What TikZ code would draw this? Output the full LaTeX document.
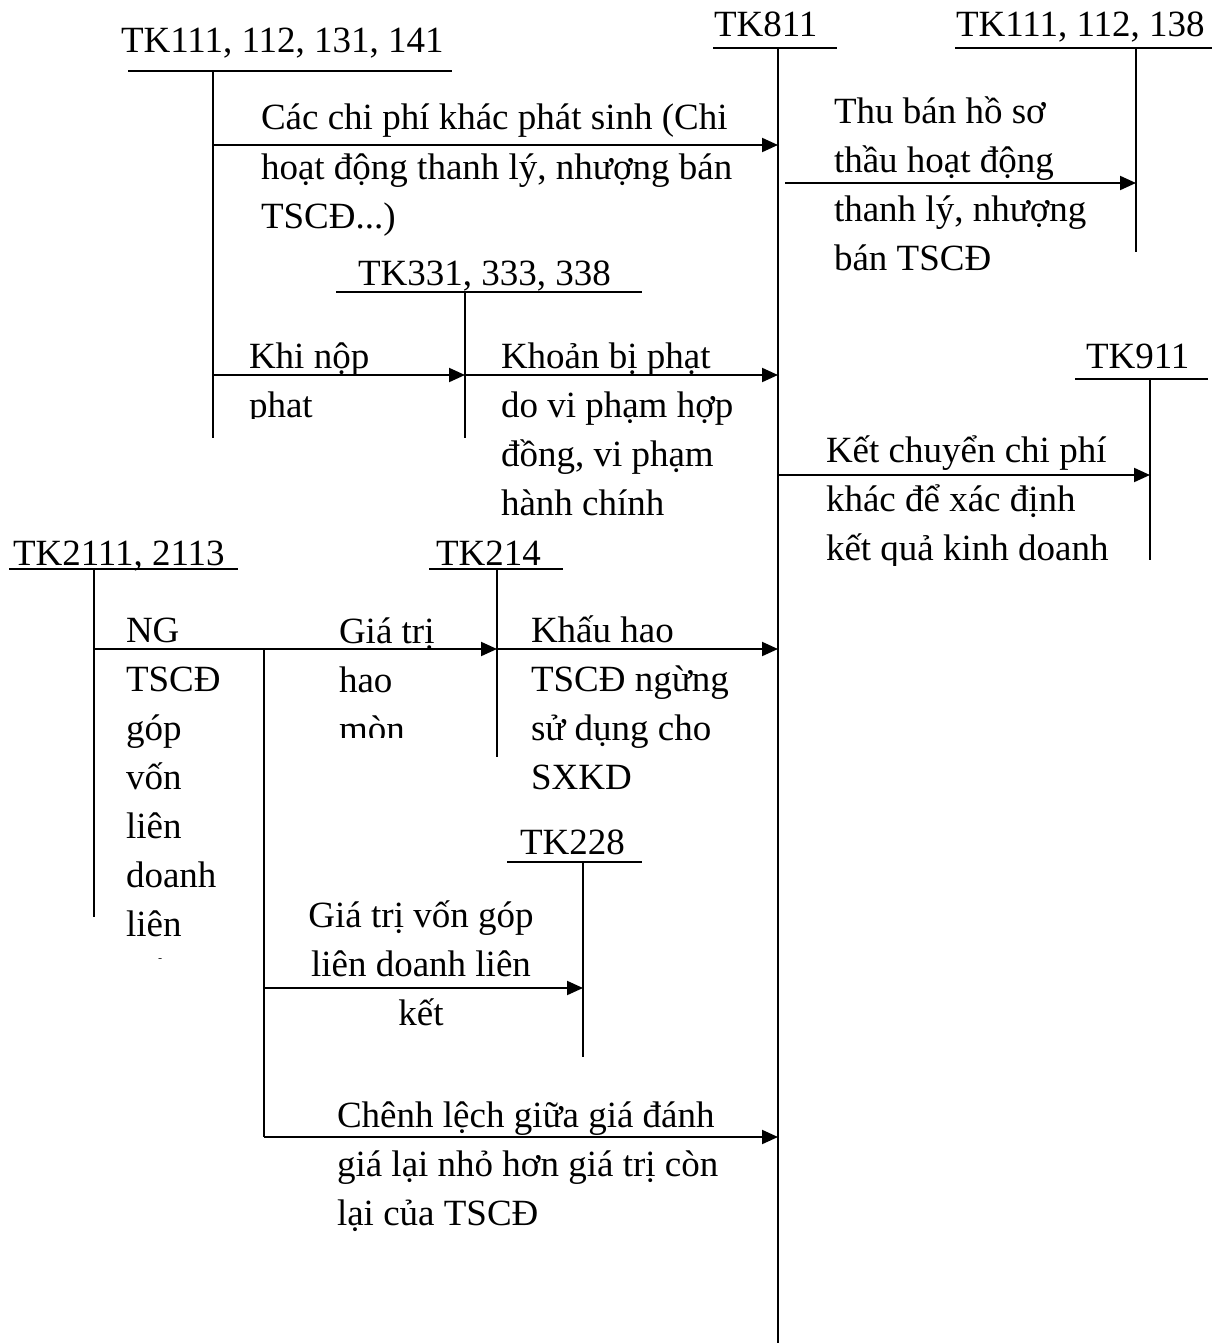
\documentclass[tikz,border=0pt]{standalone}
\usepackage{fontspec}
\setmainfont{Liberation Serif}
\usetikzlibrary{arrows.meta}

\begin{document}
\begin{tikzpicture}[>={Triangle[length=16pt,width=14pt]},x=1pt,y=-1pt,line width=2pt,
  every node/.style={inner sep=0pt,font=\fontsize{37}{49}\selectfont},
  txt/.style={anchor=base west,align=left}]
	  \useasboundingbox (0,0) rectangle (1226,1343);
	  \node[txt] (k1) at (120,53) {TK111, 112, 131, 141};
	  \draw (128,71) -- (452,71);
	  \draw (213,71) -- (213,438);
	  \node[txt] (k2) at (713,37) {TK811};
	  \draw (713,48) -- (837,48);
	  \draw (778,48) -- (778,1343);
	  \node[txt] (k3) at (955,37) {TK111, 112, 138};
	  \draw (955,48) -- (1212,48);
	  \draw (1136,48) -- (1136,252);
	  \node[txt] (k4) at (357,285) {TK331, 333, 338};
	  \draw (336,292) -- (642,292);
	  \draw (465,292) -- (465,438);
	  \node[txt] (k5) at (1085,368) {TK911};
	  \draw (1075,379) -- (1208,379);
	  \draw (1150,379) -- (1150,560);
	  \node[txt] (k6) at (12,565) {TK2111, 2113};
	  \draw (9,569) -- (238,569);
	  \draw (94,569) -- (94,917);
	  \node[txt] (k7) at (435,565) {TK214};
	  \draw (429,569) -- (563,569);
	  \draw (497,569) -- (497,757);
	  \node[txt] (k8) at (519,854) {TK228};
	  \draw (507,862) -- (642,862);
	  \draw (583,862) -- (583,1057);
	  \draw (264,649) -- (264,1137);
	  \coordinate (p1) at (213,145);
	  \coordinate (q1) at (778,145);
	  \coordinate (p2) at (785,183);
	  \coordinate (q2) at (1136,183);
	  \coordinate (p3) at (213,375);
	  \coordinate (q3) at (465,375);
	  \coordinate (q4) at (778,375);
	  \coordinate (p5) at (778,475);
	  \coordinate (q5) at (1150,475);
	  \coordinate (p6) at (94,649);
	  \coordinate (q6) at (497,649);
	  \coordinate (q7) at (778,649);
	  \coordinate (p8) at (264,988);
	  \coordinate (q8) at (583,988);
	  \coordinate (p9) at (264,1137);
	  \coordinate (q9) at (778,1137);
	  \draw[->] (p1) -- (q1);
	  \draw[->] (p2) -- (q2);
	  \draw[->] (p3) -- (q3);
	  \draw[->] (q3) -- (q4);
	  \draw[->] (p5) -- (q5);
	  \draw[->] (p6) -- (q6);
	  \draw[->] (q6) -- (q7);
	  \draw[->] (p8) -- (q8);
	  \draw[->] (p9) -- (q9);
	  \node[txt] (t1) at (260,228) {Các chi phí khác phát sinh (Chi\\hoạt động thanh lý, nhượng bán\\TSCĐ...)};
	  \node[txt] (t2) at (833,270) {Thu bán hồ sơ\\thầu hoạt động\\thanh lý, nhượng\\bán TSCĐ};
	  \begin{scope}
	    \clip (230,320) rectangle (460,418);
	    \node[txt] (t3) at (248,417) {Khi nộp\\phạt};
	  \end{scope}
	  \node[txt] (t4) at (500,515) {Khoản bị phạt\\do vi phạm hợp\\đồng, vi phạm\\hành chính};
	  \begin{scope}
	    \clip (800,420) rectangle (1140,565);
	    \node[txt] (t5) at (825,560) {Kết chuyển chi phí\\khác để xác định\\kết quả kinh doanh};
	  \end{scope}
	  \begin{scope}
	    \clip (110,600) rectangle (255,958);
	    \node[txt] (t6) at (125,985) {NG\\TSCĐ\\góp\\vốn\\liên\\doanh\\liên\\kết};
	  \end{scope}
	  \begin{scope}
	    \clip (320,600) rectangle (490,737);
	    \node[txt] (t7) at (338,741) {Giá trị\\hao\\mòn};
	  \end{scope}
	  \node[txt] (t8) at (530,789) {Khấu hao\\TSCĐ ngừng\\sử dụng cho\\SXKD};
	  \node[anchor=base,align=center] (t9) at (421,1025) {Giá trị vốn góp\\liên doanh liên\\kết};
	  \node[txt] (t10) at (336,1225) {Chênh lệch giữa giá đánh\\giá lại nhỏ hơn giá trị còn\\lại của TSCĐ};
	\end{tikzpicture}
\end{document}
